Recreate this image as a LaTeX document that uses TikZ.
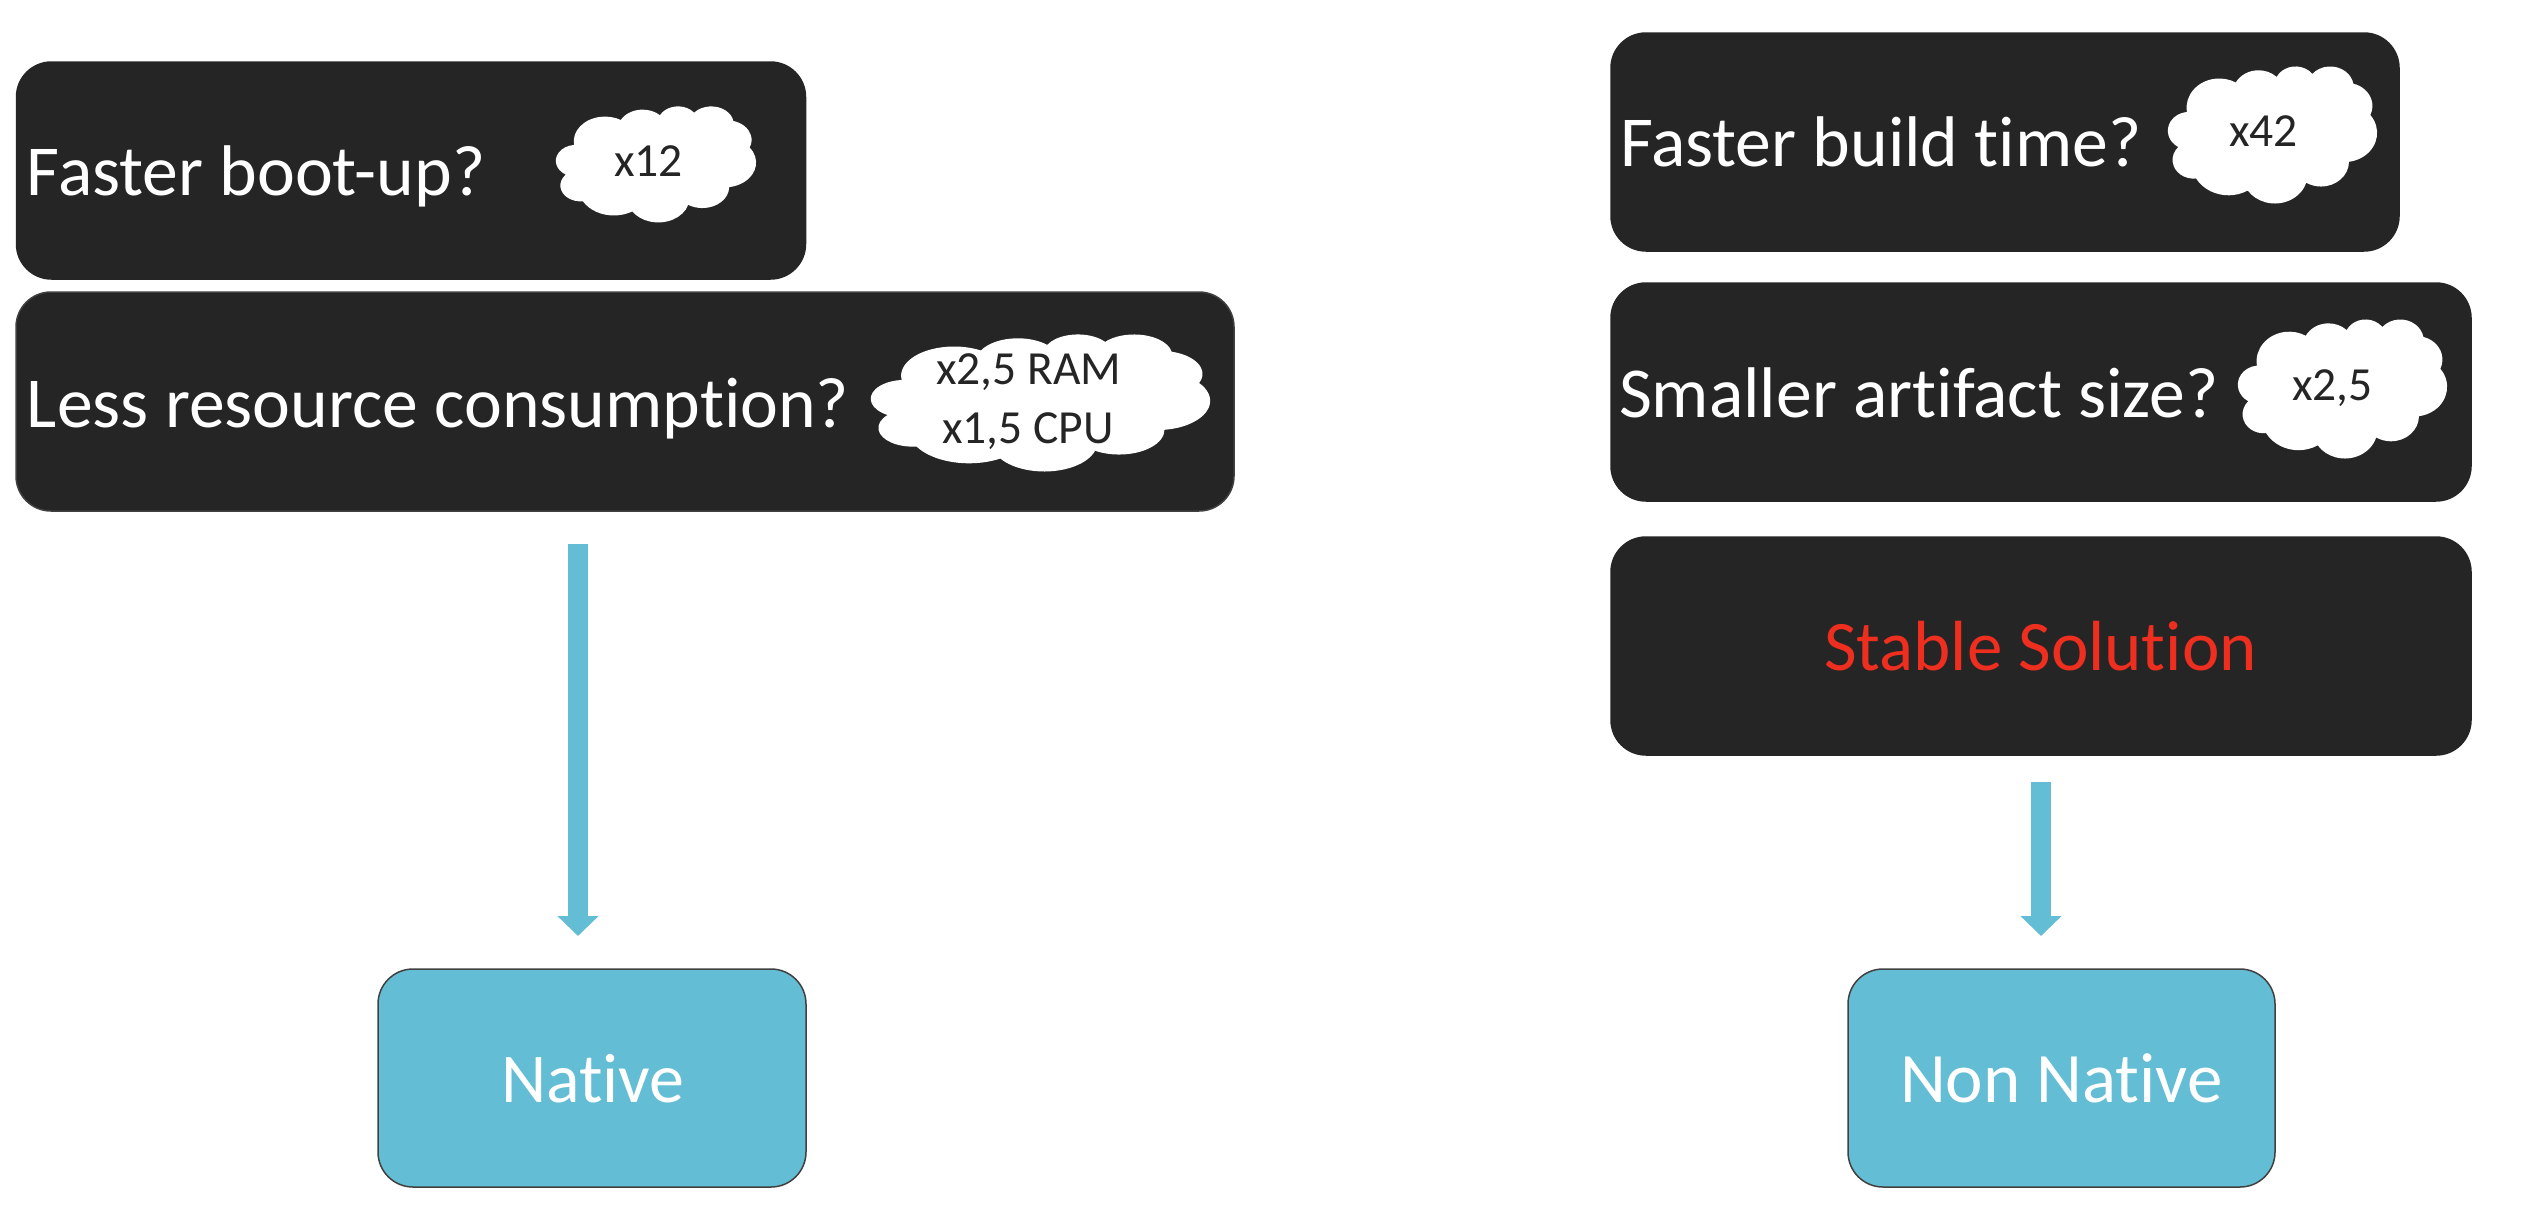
\documentclass[tikz,border=0pt]{standalone}
\usepackage{fontspec}
\setmainfont{Carlito}[Ligatures=NoCommon]
\usetikzlibrary{arrows.meta}
\definecolor{panel}{HTML}{252525}
\definecolor{edgegray}{HTML}{404040}
\definecolor{teal}{HTML}{63BDD4}
\definecolor{alert}{HTML}{EE2E1F}
\tikzset{
  panelbox/.style={draw=panel,line width=1.5pt,fill=panel,rectangle,rounded corners=35pt,inner sep=0pt,outer sep=0pt},
  resultbox/.style={draw=edgegray,line width=1.5pt,fill=teal,rectangle,rounded corners=35pt,inner sep=0pt,outer sep=0pt},
  bigtext/.style={anchor=base west,inner sep=0pt,outer sep=0pt,text=white,font=\fontsize{71.7}{84}\selectfont},
  midtext/.style={bigtext,font=\fontsize{71}{84}\selectfont},
  smalltext/.style={anchor=base west,inner sep=0pt,outer sep=0pt,text=panel,font=\fontsize{47.5}{54}\selectfont},
  flow/.style={draw=teal,line width=20pt,-{Triangle[width=40pt,length=20pt,color=teal]}}
}
\newcommand\ca[4]{%
  \pgfextra{%
    \pgfmathsetmacro\caA{#3}%
    \pgfmathsetmacro\caB{#3+#4}%
    \pgfmathsetmacro\caS{atan2(#1*sin(\caA),#2*cos(\caA))}%
    \pgfmathsetmacro\caE{atan2(#1*sin(\caB),#2*cos(\caB))}%
    \pgfmathsetmacro\caD{mod(\caE-\caS+720,360)}%
    \xdef\caSg{\caS}\xdef\caDg{\caD}%
  }
  arc[start angle=\caSg,delta angle=\caDg,x radius=#1,y radius=#2]}
% measured left, top, width, height of the visible cloud
\newcommand\puff[4]{%
  \begin{scope}[shift={(#1,#2)},x=#3*1pt/43.2,y=-#4*1pt/43.2]
    \fill[white] (3.9,14.37) \ca{6.753}{9.190}{-190.4875}{123.7805}
      \ca{5.333}{7.267}{-144.1024}{89.9452}
      \ca{4.365}{5.945}{-145.8079}{99.7230}
      \ca{4.857}{6.595}{-130.9861}{117.2417}
      \ca{5.333}{7.273}{-78.7089}{109.0269}
      \ca{6.775}{9.220}{-46.2673}{130.2690}
      \ca{5.785}{7.867}{0.6250}{114.0333}
      \ca{6.752}{9.215}{22.4516}{115.1726}
      \ca{7.720}{10.543}{66.2426}{75.7110}
      \ca{4.360}{5.918}{-274.9421}{146.7356}
      \ca{4.345}{5.945}{-246.8285}{152.5189} -- cycle;
  \end{scope}}
\begin{document}
\begin{tikzpicture}[x=1pt,y=-1pt]
\useasboundingbox (0,0) rectangle (2548,1210);
% dark panels
\node[panelbox,minimum width=789pt,minimum height=217pt] (boot) at (411,170.5) {};
\node[panelbox,draw=edgegray,minimum width=1218pt,minimum height=219pt] (res) at (625,401.5) {};
\node[panelbox,minimum width=788pt,minimum height=218pt] (build) at (2005,142) {};
\node[panelbox,minimum width=860pt,minimum height=218pt] (size) at (2041,392) {};
\node[panelbox,minimum width=860pt,minimum height=218pt] (stable) at (2041,646) {};
% result boxes
\node[resultbox,minimum width=428pt,minimum height=218pt] (native) at (592,1078) {};
\node[resultbox,minimum width=427pt,minimum height=218pt] (nonnative) at (2061.5,1078) {};
% connectors
\coordinate (leftlane) at (578,0);
\draw[flow,shorten <=33pt,shorten >=33pt] (res.south -| leftlane) -- (native.north -| leftlane);
\draw[flow,shorten <=27pt,shorten >=33pt] (stable.south) -- (stable.south |- nonnative.north);
% clouds
\puff{556}{106}{200}{116}
\puff{871}{334}{339}{137}
\puff{2168}{66}{209}{137}
\puff{2238}{319}{209}{139}
% texts
\node[bigtext] (tboot) at (27,195) {Faster boot-up?};
\node[bigtext] (tres) at (27,427) {Less resource consumption?};
\node[bigtext] (tbuild) at (1620,166) {Faster build time?};
\node[bigtext] (tsize) at (1619,417) {Smaller artifact size?};
\node[midtext,text=alert] (tstable) at (1824,670) {Stable Solution};
\node[midtext,font=\fontsize{70}{84}\selectfont] (tnative) at (501,1102) {Native};
\node[midtext] (tnon) at (1900,1102) {Non Native};
\node[smalltext] (c1) at (614,176) {x12};
\node[smalltext] (c2) at (936,384) {x2,5 RAM};
\node[smalltext] (c3) at (942,443) {x1,5 CPU};
\node[smalltext] (c4) at (2229,146) {x42};
\node[smalltext] (c5) at (2292,400) {x2,5};
\end{tikzpicture}
\end{document}
